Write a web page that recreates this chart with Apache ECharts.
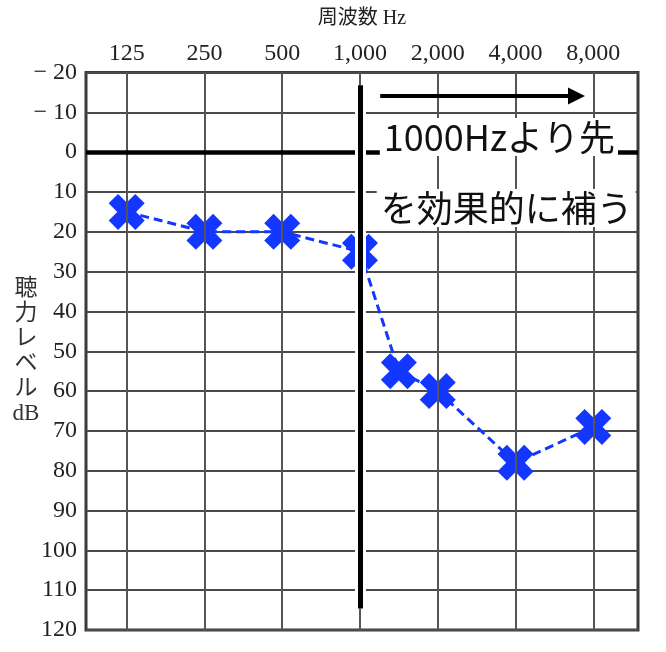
<!DOCTYPE html>
<html>
<head>
<meta charset="utf-8">
<script src="https://cdn.jsdelivr.net/npm/echarts@6/dist/echarts.min.js"></script>
<style>
  html, body { margin: 0; padding: 0; background: #fff; }
  #chart { width: 666px; height: 652px; }
</style>
</head>
<body>
<div id="chart"></div>
<script>
  // frequency ticks, in octaves above 125 Hz
  const freqTicks = [0, 1, 2, 3, 4, 5, 6];
  const freqLabels = ['125', '250', '500', '1,000', '2,000', '4,000', '8,000'];

  // measured points (1,500 Hz sits halfway between 1k and 2k)
  const pointFreq = [0, 1, 2, 3, 3.5, 4, 5, 6];
  const pointLevel = [15, 20, 20, 25, 55, 60, 78, 69];

  const noteLines = ['1000Hzより先', 'を効果的に補う'];

  const blue = '#1437ff';
  const serif = "'Liberation Serif', 'Noto Sans CJK JP', serif";
  const crossPath = 'path://M0,26 L26,0 L50,24 L74,0 L100,26 L76,50 L100,74 L74,100 L50,76 L26,100 L0,74 L24,50 Z';

  function hidden(z, lines, lineStyle) {
    return {
      type: 'line',
      data: [],
      z: z,
      silent: true,
      markLine: {
        silent: true,
        animation: false,
        symbol: 'none',
        label: { show: false },
        lineStyle: lineStyle,
        data: lines,
      },
    };
  }

  const chart = echarts.init(document.getElementById('chart'), null, { renderer: 'canvas' });

  const option = {
    animation: false,
    grid: {
      left: 86, right: 28, top: 72.5, bottom: 22,
      outerBoundsMode: 'none',
      containLabel: false,
      show: true, borderColor: '#3a3a3a', borderWidth: 3, backgroundColor: '#fff',
    },
    xAxis: {
      type: 'value',
      position: 'top',
      min: -0.523,
      max: 6.575,
      name: '周波数 Hz',
      nameLocation: 'middle',
      nameGap: 44,
      nameTextStyle: { fontFamily: serif, fontSize: 20, color: '#222' },
      axisLine: { show: false },
      axisTick: { show: false },
      splitLine: { show: false },
      axisLabel: {
        customValues: freqTicks,
        formatter: (v) => freqLabels[Math.round(v)],
        fontFamily: serif,
        fontSize: 24,
        color: '#222',
        margin: 7,
      },
    },
    yAxis: {
      type: 'value',
      inverse: true,
      min: -20,
      max: 120,
      interval: 10,
      name: '聴\n力\nレ\nベ\nル\ndB',
      nameLocation: 'middle',
      nameRotate: 0,
      nameGap: 60,
      nameMoveOverlap: false,
      nameTextStyle: { fontFamily: serif, fontSize: 23, lineHeight: 25, color: '#333', align: 'center' },
      axisLine: { show: false },
      axisTick: { show: false },
      axisLabel: {
        formatter: (v) => (v < 0 ? '\u2212 ' + Math.abs(v) : String(v)),
        fontFamily: serif,
        fontSize: 24,
        color: '#222',
        margin: 9,
      },
      splitLine: { lineStyle: { color: '#4a4a4a', width: 2 } },
    },
    series: [
      // vertical frequency grid and the 0 dB reference line
      hidden(1, freqTicks.map((x) => ({ xAxis: x })), { color: '#555', width: 2, type: 'solid' }),
      hidden(2, [{ yAxis: 0 }], { color: '#000', width: 4.5, type: 'solid' }),
      {
        type: 'line',
        z: 3,
        data: pointFreq.map((x, i) => [x, pointLevel[i]]),
        symbol: crossPath,
        symbolSize: 36,
        showAllSymbol: true,
        itemStyle: { color: blue },
        lineStyle: { color: blue, width: 3, type: [9, 5] },
      },
      // white band and heavy bar at 1,000 Hz
      hidden(5, [[{ coord: [3, -16.8] }, { coord: [3, 114.6] }]], { color: '#fff', width: 11, type: 'solid' }),
      hidden(6, [[{ coord: [3, -16.8] }, { coord: [3, 114.6] }]], { color: '#000', width: 5, type: 'solid' }),
      {
        type: 'line',
        data: [],
        z: 7,
        silent: true,
        markLine: {
          silent: true,
          animation: false,
          symbol: ['none', 'triangle'],
          symbolSize: 17,
          label: { show: false },
          lineStyle: { color: '#000', width: 4, type: 'solid' },
          data: [[{ coord: [3.26, -14.1] }, { coord: [5.784, -14.1] }]],
        },
      },
    ],
  };

  chart.setOption(option);

  const notePos = [[3.255, -3.8], [3.215, 14]];
  chart.setOption({
    graphic: noteLines.map((text, i) => {
      const p = chart.convertToPixel({ gridIndex: 0 }, notePos[i]);
      return {
        type: 'text',
        x: p[0],
        y: p[1],
        z: 20,
        style: {
          text: text,
          fontFamily: "'Noto Sans CJK JP', sans-serif",
          fontSize: 36,
          fill: '#111',
          align: 'left',
          verticalAlign: 'middle',
          backgroundColor: '#fff',
          padding: [1, 3, 1, 4],
        },
      };
    }),
  });

  window.addEventListener('resize', () => chart.resize());
</script>
</body>
</html>
